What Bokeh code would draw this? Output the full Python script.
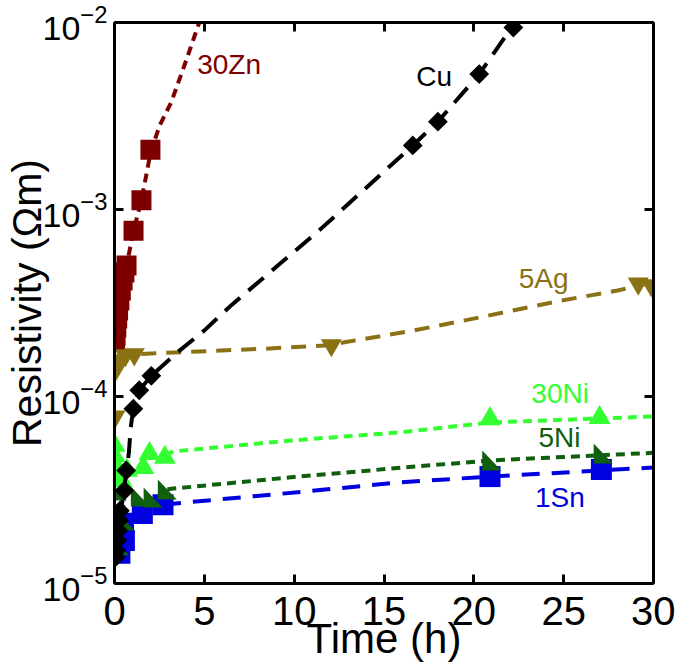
from bokeh.plotting import figure
from bokeh.models import LinearAxis, LogAxis, FixedTicker, LogTicker, CustomJSTickFormatter, ColumnDataSource
from bokeh.embed import file_html
from bokeh.resources import INLINE
from bokeh.core.properties import value

# ---------------- data (time in h, resistivity in Ohm m) ----------------
x_ticks = [0, 5, 10, 15, 20, 25, 30]

sn_t = [0.0, 0.05, 0.1, 0.3, 0.5, 0.55, 1.55, 2.7, 20.9, 27.1]
sn_r = [2.3e-5, 1.9e-5, 1.6e-5, 1.45e-5, 2.1e-5, 1.7e-5, 2.37e-5, 2.64e-5, 3.73e-5, 4.07e-5]
sn_fit_t = [2.7, 4.09, 9.28, 15.96, 20.9, 30.0]
sn_fit_r = [2.64e-5, 2.72e-5, 3.02e-5, 3.48e-5, 3.73e-5, 4.17e-5]

ni5_t = [0.15, 0.1, 0.3, 0.6, 1.44, 2.15, 2.94, 21.0, 27.2]
ni5_r = [3.14e-5, 2.5e-5, 1.6e-5, 2.17e-5, 2.92e-5, 2.88e-5, 3.18e-5, 4.55e-5, 4.96e-5]
ni5_fit_t = [2.94, 3.16, 9.84, 15.96, 20.9, 30.0]
ni5_fit_r = [3.18e-5, 3.21e-5, 3.70e-5, 4.16e-5, 4.55e-5, 5.0e-5]

ni30_t = [0.0, 0.0, 0.1, 0.1, 0.4, 0.7, 1.6, 1.95, 2.8, 20.9, 27.0]
ni30_r = [5.47e-5, 4.83e-5, 4.22e-5, 3.64e-5, 3.55e-5, 4.02e-5, 4.17e-5, 4.95e-5, 4.72e-5, 7.6e-5, 7.7e-5]
ni30_fit_t = [2.8, 3.33, 9.84, 15.96, 20.9, 30.0]
ni30_fit_r = [4.9e-5, 5.09e-5, 5.82e-5, 6.44e-5, 7.26e-5, 7.82e-5]

zn_t = [0.03, 0.06, 0.1, 0.15, 0.2, 0.27, 0.35, 0.45, 0.55, 0.67, 1.06, 1.5, 2.0]
zn_r = [1.95e-4, 2.12e-4, 2.34e-4, 2.61e-4, 2.88e-4, 3.26e-4, 3.69e-4, 4.17e-4, 4.6e-4, 5.02e-4,
        7.7e-4, 1.12e-3, 2.09e-3]
zn_fit_t = [0.0, 0.35, 0.67, 1.06, 1.5, 2.0, 2.51, 3.16, 3.99, 4.48, 4.72]
zn_fit_r = [1.9e-4, 3.6e-4, 5.0e-4, 7.7e-4, 1.12e-3, 2.0e-3, 2.81e-3, 3.75e-3, 6.27e-3, 8.6e-3, 1.0e-2]

ag_t = [0.03, 0.1, 0.1, 0.6, 1.1, 12.07, 29.15, 29.88]
ag_r = [7.8e-5, 1.56e-4, 1.41e-4, 1.66e-4, 1.68e-4, 1.88e-4, 4.02e-4, 3.93e-4]
ag_fit_t = [1.49, 8.3, 12.07, 12.8, 16.5, 19.3, 24.9, 28.0, 30.0]
ag_fit_r = [1.69e-4, 1.80e-4, 1.88e-4, 1.95e-4, 2.24e-4, 2.53e-4, 3.26e-4, 3.69e-4, 4.08e-4]

cu_t = [0.05, 0.1, 0.15, 0.2, 0.25, 0.3, 0.55, 0.65, 1.05, 1.38, 2.05, 16.6, 18.0, 20.3, 22.2]
cu_r = [1.38e-5, 1.5e-5, 1.7e-5, 1.92e-5, 2.17e-5, 2.45e-5, 3.14e-5, 4.02e-5, 8.6e-5, 1.08e-4,
        1.29e-4, 2.2e-3, 2.95e-3, 5.3e-3, 9.4e-3]
cu_fit_t = [0.3, 0.6, 0.8, 0.9, 1.05, 1.38, 2.05, 3.43, 4.99, 6.49, 11.5, 16.6, 18.0, 20.3, 22.3]
cu_fit_r = [2.2e-5, 3.6e-5, 5.0e-5, 6.8e-5, 8.6e-5, 1.08e-4, 1.29e-4, 1.7e-4, 2.25e-4, 3.07e-4,
            7.9e-4, 2.2e-3, 2.95e-3, 5.3e-3, 1.0e-2]

label_text = ["30Zn", "Cu", "5Ag", "30Ni", "5Ni", "1Sn"]
label_t = [4.6, 16.8, 22.5, 23.2, 23.6, 23.4]
label_r = [5.96e-3, 5.17e-3, 4.28e-4, 1.04e-4, 6.04e-5, 2.88e-5]

# ---------------- styling ----------------
C_ZN = "#7d0000"
C_CU = "#000000"
C_AG = "#8a7214"
C_NI30 = "#33ff33"
C_NI5 = "#0f5f0f"
C_SN = "#0000e0"
label_colors = [C_ZN, C_CU, C_AG, C_NI30, C_NI5, C_SN]
FONT = "Liberation Sans"

p = figure(frame_width=539, frame_height=561, y_axis_type="log",
           x_range=(0, 30), y_range=(1e-5, 1e-2),
           output_backend="svg", toolbar_location=None,
           min_border_left=113, min_border_top=22, min_border_right=22, min_border_bottom=10,
           background_fill_color="white", border_fill_color="white")
p.outline_line_color = None
p.grid.visible = False

# 1Sn
p.line(sn_fit_t, sn_fit_r, line_color=C_SN, line_width=4, line_dash="18 12")
p.scatter(sn_t, sn_r, marker="square", size=21, fill_color=C_SN, line_color=C_SN, line_width=0)

# 5Ni (right-triangle markers drawn as small patches around each point)
dx = 0.53
f = 10 ** (10 / 187)
ni5_xs = [[t - dx, t - dx, t + dx] for t in ni5_t]
ni5_ys = [[r * f, r / f, r / f] for r in ni5_r]
p.line(ni5_fit_t, ni5_fit_r, line_color=C_NI5, line_width=4, line_dash="9 6")
p.patches(ni5_xs, ni5_ys, fill_color=C_NI5, line_color=C_NI5, line_width=0)

# 30Ni
p.line(ni30_fit_t, ni30_fit_r, line_color=C_NI30, line_width=4, line_dash="9 6")
p.scatter(ni30_t, ni30_r, marker="triangle", size=22, fill_color=C_NI30, line_color=C_NI30, line_width=0)

# 30Zn
p.line(zn_fit_t, zn_fit_r, line_color=C_ZN, line_width=4, line_dash="9 6")
p.scatter(zn_t, zn_r, marker="square", size=20, fill_color=C_ZN, line_color=C_ZN, line_width=0)

# 5Ag
p.line(ag_fit_t, ag_fit_r, line_color=C_AG, line_width=4, line_dash="15 10")
p.scatter(ag_t, ag_r, marker="inverted_triangle", size=21, fill_color=C_AG, line_color=C_AG, line_width=0)

# Cu
p.line(cu_fit_t, cu_fit_r, line_color=C_CU, line_width=4, line_dash="20 11")
p.scatter(cu_t, cu_r, marker="square", angle=0.785398, size=14, fill_color=C_CU, line_color=C_CU, line_width=0)

# labels
lab_src = ColumnDataSource(dict(x=label_t, y=label_r, text=label_text, color=label_colors))
p.text(x="x", y="y", text="text", text_color="color", source=lab_src,
       text_font=value(FONT), text_font_size="28px", text_align="left", text_baseline="middle")

# axes
for ax in (p.xaxis[0], p.yaxis[0]):
    ax.axis_line_width = 3
    ax.major_tick_line_width = 3
    ax.major_tick_in = 9
    ax.major_tick_out = 0
    ax.minor_tick_line_color = None
    ax.axis_label_text_font = FONT
    ax.axis_label_text_font_style = "normal"
    ax.major_label_text_font = FONT
    ax.major_label_text_color = "black"
    ax.axis_label_text_color = "black"

p.xaxis[0].ticker = FixedTicker(ticks=x_ticks)
p.xaxis[0].axis_label = "Time (h)"
p.xaxis[0].axis_label_text_font_size = "42px"
p.xaxis[0].major_label_text_font_size = "40px"
p.xaxis[0].major_label_standoff = 13
p.xaxis[0].axis_label_standoff = -13

p.yaxis[0].axis_label = "Resistivity (Ωm)"
p.yaxis[0].axis_label_text_font_size = "41px"
p.yaxis[0].major_label_text_font_size = "34px"
p.yaxis[0].major_label_standoff = 3
p.yaxis[0].axis_label_standoff = -10

top = LinearAxis(ticker=FixedTicker(ticks=x_ticks), formatter=CustomJSTickFormatter(code="return ''"))
right = LogAxis(ticker=LogTicker(), formatter=CustomJSTickFormatter(code="return ''"))
for ax in (top, right):
    ax.axis_line_width = 3
    ax.major_tick_line_width = 3
    ax.major_tick_in = 9
    ax.major_tick_out = 0
    ax.minor_tick_line_color = None
    ax.major_label_text_font_size = "0px"
    ax.major_label_standoff = 0
p.add_layout(top, "above")
p.add_layout(right, "right")

open("out.html", "w").write(file_html(p, INLINE))
